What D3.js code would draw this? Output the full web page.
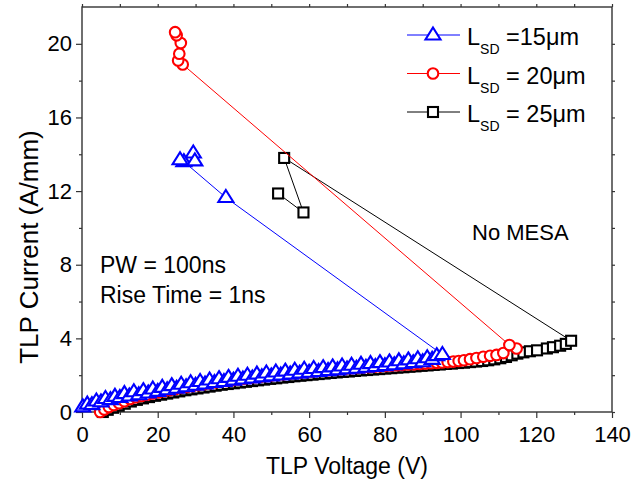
<!DOCTYPE html>
<html lang="en">
<head>
<meta charset="UTF-8">
<title>TLP I-V</title>
<script src="https://d3js.org/d3.v7.min.js"></script>
<style>
body{margin:0; background:#fff;}
svg text{font-family:Arial,"Liberation Sans",sans-serif; fill:#000;}
</style>
</head>
<body>
<div class="chart"></div>
<script>
var blueV = [0.2,1.4,2.6,3.8,5.0,6.2,7.5,8.7,10.0,11.2,12.5,13.7,15.0,16.2,17.5,18.7,20.0,21.2,22.5,23.7,25.0,26.2,27.5,28.7,30.0,31.2,32.5,33.7,35.0,36.2,37.5,38.7,40.0,41.2,42.5,43.7,45.0,46.2,47.5,48.7,50.0,51.2,52.5,53.7,55.0,56.2,57.5,58.7,60.0,61.2,62.5,63.7,65.0,66.2,67.5,68.7,70.0,71.2,72.5,73.7,75.0,76.2,77.5,78.7,80.0,81.2,82.5,83.7,85.0,86.2,87.5,88.7,90.0,91.2,92.5,93.7,95.2,
             38.0,26.9,25.9,29.4,29.8];
var blueI = [0.28,0.43,0.40,0.60,0.55,0.73,0.67,0.85,0.79,1.00,0.87,1.10,0.94,1.16,1.03,1.25,1.12,1.34,1.21,1.43,1.29,1.51,1.37,1.59,1.45,1.66,1.52,1.74,1.60,1.81,1.66,1.88,1.73,1.94,1.79,2.00,1.85,2.06,1.91,2.12,1.96,2.17,2.01,2.22,2.06,2.27,2.11,2.32,2.16,2.36,2.20,2.41,2.25,2.45,2.29,2.50,2.34,2.54,2.38,2.59,2.43,2.63,2.47,2.68,2.52,2.72,2.57,2.78,2.62,2.83,2.68,2.89,2.73,2.95,2.86,3.06,3.12,
             11.65,13.60,13.70,14.07,13.64];

var redV = [4.8,5.9,7.1,8.4,9.8,11.2,12.7,14.2,15.7,17.2,18.7,20.2,21.7,23.2,24.7,26.2,27.7,29.2,30.7,32.2,33.7,35.2,36.7,38.2,39.7,41.2,42.7,44.2,45.7,47.2,48.7,50.2,51.7,53.2,54.7,56.2,57.7,59.2,60.7,62.2,63.7,65.2,66.7,68.2,69.7,71.2,72.7,74.2,75.7,77.2,78.7,80.2,81.7,83.2,84.7,86.2,87.7,89.2,90.7,92.2,93.7,95.1,96.6,98.1,99.5,100.9,102.5,104.2,106.0,107.8,109.5,111.3,114.8,112.9,
            26.6,25.4,25.7,26.1,25.0,24.6];
var redI = [0.00,0.14,0.27,0.38,0.48,0.59,0.71,0.80,0.87,0.94,1.01,1.07,1.13,1.19,1.25,1.31,1.36,1.41,1.46,1.51,1.56,1.61,1.65,1.69,1.73,1.77,1.81,1.85,1.89,1.92,1.96,1.99,2.02,2.05,2.08,2.11,2.14,2.17,2.20,2.23,2.25,2.28,2.31,2.33,2.36,2.38,2.40,2.42,2.44,2.46,2.48,2.50,2.52,2.54,2.56,2.58,2.59,2.61,2.63,2.65,2.67,2.69,2.71,2.74,2.77,2.81,2.87,2.93,3.00,3.05,3.10,3.20,3.45,3.64,
            18.88,19.10,19.46,20.04,20.46,20.63];

var blackV = [5.5,6.8,8.2,9.7,11.3,12.9,14.5,16.1,17.7,19.3,20.9,22.5,24.1,25.7,27.3,28.9,30.5,32.1,33.7,35.3,36.9,38.5,40.1,41.7,43.3,44.9,46.5,48.1,49.7,51.3,52.9,54.5,56.1,57.7,59.3,60.9,62.5,64.1,65.7,67.3,68.9,70.5,72.1,73.7,75.3,76.9,78.5,80.1,81.7,83.3,84.9,86.5,88.1,89.7,91.3,92.9,94.5,96.1,97.7,99.3,100.9,102.5,104.1,105.7,107.3,108.9,110.5,112.0,113.5,115.0,116.6,118.3,120.2,122.8,124.4,126.3,127.8,129.2,
              53.4,58.5,51.8];
var blackI = [0.00,0.12,0.23,0.34,0.45,0.57,0.66,0.74,0.81,0.88,0.94,1.00,1.06,1.12,1.18,1.23,1.28,1.33,1.38,1.43,1.48,1.52,1.56,1.60,1.64,1.68,1.72,1.76,1.80,1.83,1.87,1.90,1.94,1.97,2.00,2.03,2.06,2.09,2.12,2.15,2.18,2.20,2.23,2.26,2.28,2.31,2.33,2.36,2.38,2.41,2.43,2.46,2.48,2.51,2.53,2.56,2.58,2.61,2.63,2.66,2.68,2.71,2.74,2.77,2.81,2.86,2.92,2.99,3.08,3.17,3.24,3.30,3.35,3.45,3.52,3.60,3.70,3.87,
              13.80,10.84,11.87];

var seriesNames = ["=15\u03bcm", "= 20\u03bcm", "= 25\u03bcm"];
var xTicks = [0,20,40,60,80,100,120,140];
var yTicks = [0,4,8,12,16,20];

var w = 644, h = 480;
var mLeft = 82, mRight = 612, mTop = 7, mBottom = 412;

var svg = d3.select(".chart").append("svg")
	.attr("width", w)
	.attr("height", h);

var x = d3.scaleLinear().domain([0,140]).range([mLeft,mRight]);
var y = d3.scaleLinear().domain([0,22]).range([mBottom,mTop]);

function zip(vs, is){
	return vs.map(function(v, i){ return [v, is[i]]; });
}

// axes
var minorX = d3.range(10,140,20);
var minorY = d3.range(2,22,4);

function styleAxis(g){
	g.select(".domain").remove();
	g.selectAll("line").attr("stroke","#333").attr("stroke-width",1.2);
	g.selectAll("text").attr("font-size","22px").attr("fill","#000");
}

svg.append("g").attr("transform","translate(0,"+mBottom+")")
	.call(d3.axisBottom(x).tickValues(xTicks).tickSize(6).tickPadding(8))
	.call(styleAxis);
svg.append("g").attr("transform","translate(0,"+mBottom+")")
	.call(d3.axisBottom(x).tickValues(minorX).tickSize(3).tickFormat(""))
	.call(styleAxis);
svg.append("g").attr("transform","translate(0,"+mTop+")")
	.call(d3.axisTop(x).tickValues(xTicks.concat(minorX)).tickSize(3).tickFormat(""))
	.call(styleAxis);

svg.append("g").attr("transform","translate("+mLeft+",0)")
	.call(d3.axisLeft(y).tickValues(yTicks).tickSize(6).tickPadding(4))
	.call(styleAxis);
svg.append("g").attr("transform","translate("+mLeft+",0)")
	.call(d3.axisLeft(y).tickValues(minorY).tickSize(3).tickFormat(""))
	.call(styleAxis);
svg.append("g").attr("transform","translate("+mRight+",0)")
	.call(d3.axisRight(y).tickValues(yTicks.concat(minorY)).tickSize(3).tickFormat(""))
	.call(styleAxis);

svg.append("rect")
	.attr("x", mLeft).attr("y", mTop)
	.attr("width", mRight-mLeft).attr("height", mBottom-mTop)
	.attr("fill","none").attr("stroke","#333").attr("stroke-width",1.4);

// series
var line = d3.line().x(function(d){ return x(d[0]); }).y(function(d){ return y(d[1]); });

var triPath = "M0,-7.5L7.5,4.5L-7.5,4.5Z";
function drawMarker(g, kind, color){
	if(kind == "tri"){
		g.append("path").attr("d", triPath);
	}else if(kind == "circle"){
		g.append("circle").attr("r", 5.3);
	}else{
		g.append("rect").attr("x",-5).attr("y",-5).attr("width",10).attr("height",10);
	}
	g.selectAll("*").attr("fill","#fff").attr("stroke",color).attr("stroke-width",2.1);
}

var series = [
	{data: zip(blackV, blackI), color: "#000", kind: "square"},
	{data: zip(redV, redI), color: "#ff0000", kind: "circle"},
	{data: zip(blueV, blueI), color: "#0000ff", kind: "tri"}
];

series.forEach(function(s){
	svg.append("path")
		.attr("d", line(s.data))
		.attr("fill","none")
		.attr("stroke", s.color)
		.attr("stroke-width",1);
	svg.append("g").selectAll("g")
		.data(s.data)
		.enter()
		.append("g")
		.attr("transform", function(d){ return "translate("+x(d[0])+","+y(d[1])+")"; })
		.each(function(){ drawMarker(d3.select(this), s.kind, s.color); });
});

// legend
var legendRows = [
	{name: seriesNames[0], color: "#0000ff", kind: "tri", cy: 35},
	{name: seriesNames[1], color: "#ff0000", kind: "circle", cy: 73.5},
	{name: seriesNames[2], color: "#000", kind: "square", cy: 112}
];
legendRows.forEach(function(r){
	svg.append("line")
		.attr("x1",407).attr("x2",460).attr("y1",r.cy).attr("y2",r.cy)
		.attr("stroke", r.color).attr("stroke-width",1);
	drawMarker(svg.append("g").attr("transform","translate(433,"+r.cy+")"), r.kind, r.color);
	var t = svg.append("text").attr("x",467).attr("y",r.cy+10).attr("font-size","23.5px");
	t.append("tspan").text("L");
	t.append("tspan").attr("font-size","14px").attr("dy",9).text("SD");
	t.append("tspan").attr("dy",-9).text(" " + r.name);
});

// annotations
svg.append("text").attr("x",472).attr("y",240).attr("font-size","22px").text("No MESA");
svg.append("text").attr("x",100).attr("y",273).attr("font-size","23px").text("PW = 100ns");
svg.append("text").attr("x",100).attr("y",303).attr("font-size","23px").text("Rise Time = 1ns");

// axis titles
svg.append("text")
	.attr("x",(mLeft+mRight)/2).attr("y",474)
	.attr("text-anchor","middle").attr("font-size","23px")
	.text("TLP Voltage (V)");
svg.append("text")
	.attr("transform","translate(38,247) rotate(-90)")
	.attr("text-anchor","middle").attr("font-size","26px")
	.text("TLP Current (A/mm)");
</script>
</body>
</html>
